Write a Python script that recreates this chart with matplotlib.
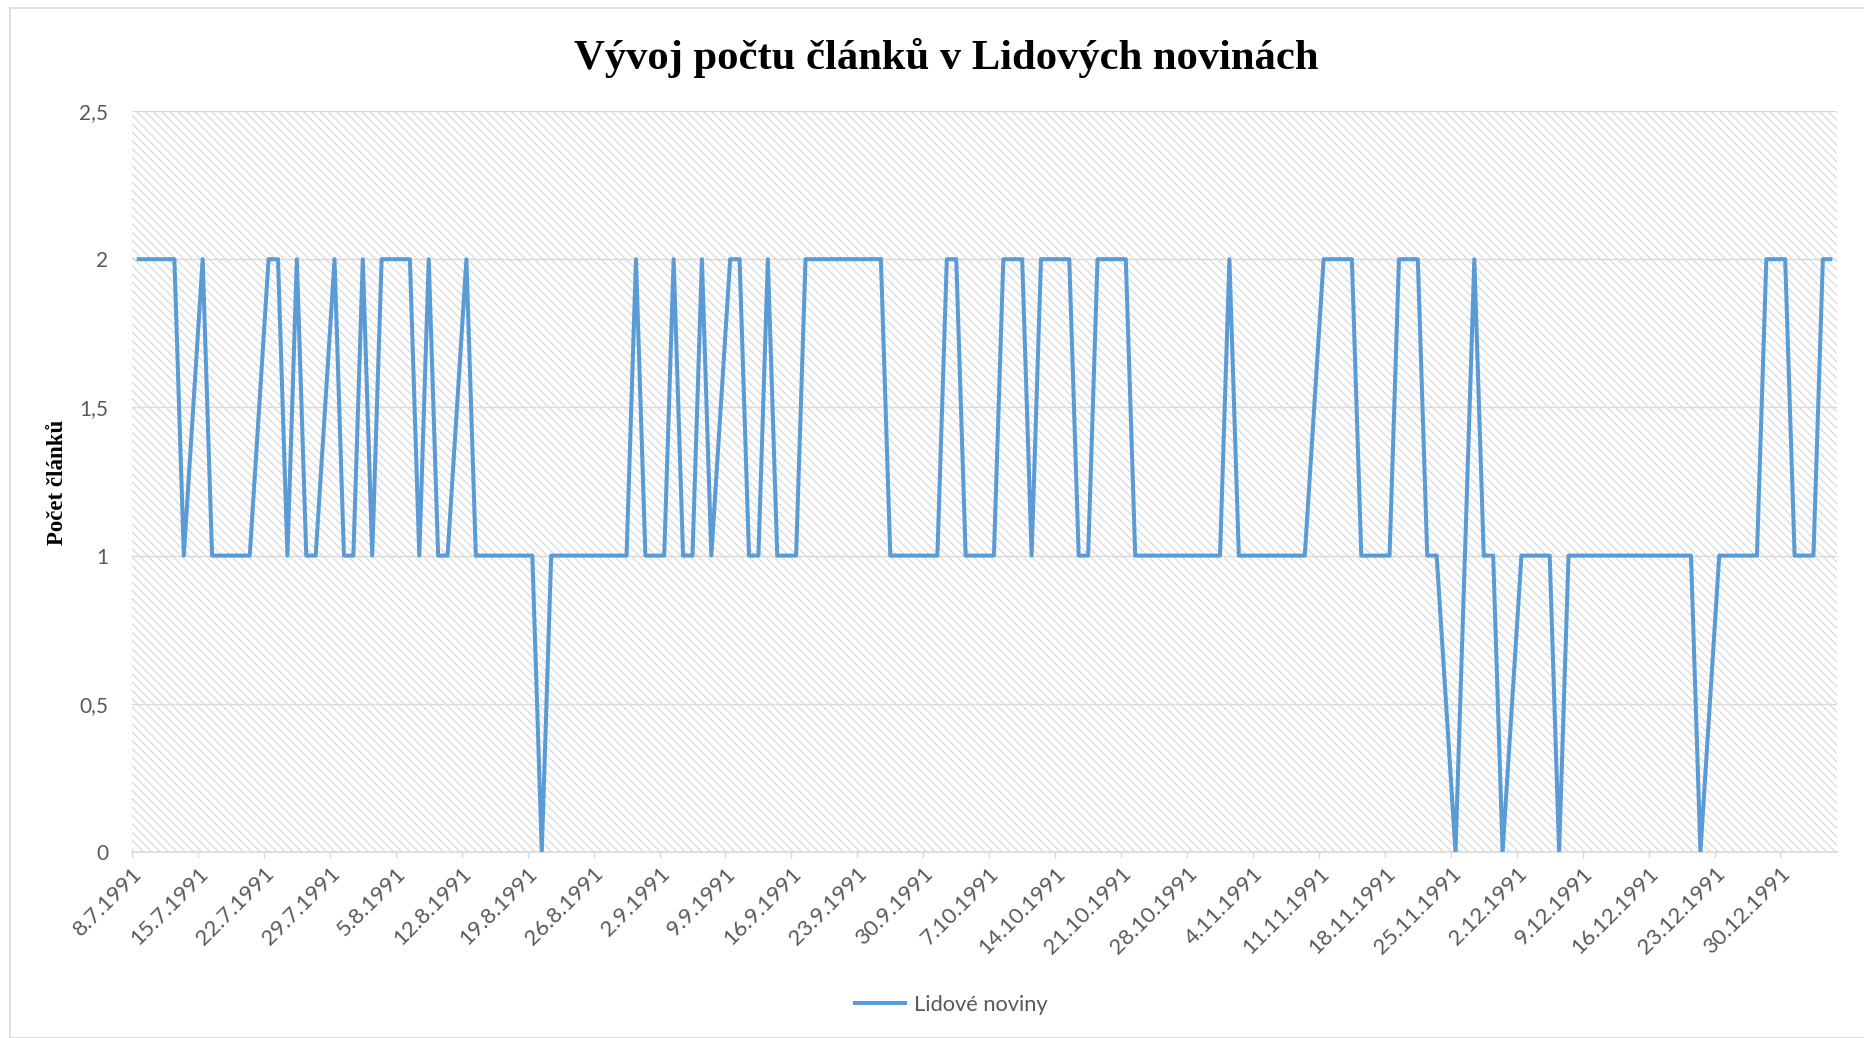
import matplotlib.pyplot as plt
import matplotlib.ticker as mticker
import matplotlib.transforms as mtransforms
import pandas as pd
from matplotlib.patches import Rectangle

# Lidové noviny vycházely Po-So, neděle v datech nejsou
dates = pd.bdate_range("1991-07-08", "1992-01-04", freq="C",
                       weekmask="Mon Tue Wed Thu Fri Sat")

# počet článků, jeden řádek = jeden týden (Po..So)
counts = [
    2, 2, 2, 2, 2, 1,  # 8.7.
    2, 1, 1, 1, 1, 1,  # 15.7.
    2, 2, 1, 2, 1, 1,  # 22.7.
    2, 1, 1, 2, 1, 2,  # 29.7.
    2, 2, 1, 2, 1, 1,  # 5.8.
    2, 1, 1, 1, 1, 1,  # 12.8.
    1, 0, 1, 1, 1, 1,  # 19.8.
    1, 1, 1, 1, 2, 1,  # 26.8.
    1, 2, 1, 1, 2, 1,  # 2.9.
    2, 2, 1, 1, 2, 1,  # 9.9.
    1, 2, 2, 2, 2, 2,  # 16.9.
    2, 2, 2, 1, 1, 1,  # 23.9.
    1, 1, 2, 2, 1, 1,  # 30.9.
    1, 2, 2, 2, 1, 2,  # 7.10.
    2, 2, 1, 1, 2, 2,  # 14.10.
    2, 1, 1, 1, 1, 1,  # 21.10.
    1, 1, 1, 1, 2, 1,  # 28.10.
    1, 1, 1, 1, 1, 1,  # 4.11.
    2, 2, 2, 2, 1, 1,  # 11.11.
    1, 2, 2, 2, 1, 1,  # 18.11.
    0, 1, 2, 1, 1, 0,  # 25.11.
    1, 1, 1, 1, 0, 1,  # 2.12.
    1, 1, 1, 1, 1, 1,  # 9.12.
    1, 1, 1, 1, 1, 0,  # 16.12.
    1, 1, 1, 1, 1, 2,  # 23.12.
    2, 1, 1, 1, 2, 2,  # 30.12.
]

tick_dates = pd.date_range("1991-07-08", "1991-12-30", freq="7D")
tick_labels = [f"{d.day}.{d.month}.{d.year}" for d in tick_dates]
y_ticks = [0, 0.5, 1, 1.5, 2, 2.5]

title = "Vývoj počtu článků v Lidových novinách"
y_title = "Počet článků"
series_name = "Lidové noviny"

GRAY = "#d9d9d9"
TEXT = "#595959"
BLUE = "#5B9BD5"

plt.rcParams["hatch.linewidth"] = 0.9

fig = plt.figure(figsize=(18.65, 10.38), dpi=100)
W, H = 1865, 1038

# rámeček grafu
fig.patches.append(Rectangle((10 / W, 0), 1.2, 1 - 8 / H, transform=fig.transFigure,
                             fill=False, edgecolor=GRAY, linewidth=1.2))

ax = fig.add_axes([132 / W, 1 - 852 / H, (1837 - 132) / W, (852 - 111) / H])
ax.patch.set_visible(False)
ax.add_patch(Rectangle((0, 0), 1, 1, transform=ax.transAxes, facecolor="white",
                       edgecolor=GRAY, hatch="\\\\\\\\", linewidth=0, zorder=0))

# body jsou uprostřed dne (osa "mezi značkami")
x = dates + pd.Timedelta(hours=12)
ax.plot(x, counts, color=BLUE, linewidth=2.9, solid_joinstyle="round",
        solid_capstyle="butt", label=series_name, zorder=3)

ax.set_xlim(pd.Timestamp("1991-07-08"), pd.Timestamp("1992-01-05"))
ax.set_ylim(0, 2.5)

ax.set_xticks(tick_dates)
ax.set_xticklabels(tick_labels, rotation=45, ha="right", va="center",
                   rotation_mode="anchor", family="Lato", fontsize=16, color=TEXT)

ax.set_yticks(y_ticks)
ax.yaxis.set_major_formatter(mticker.FuncFormatter(
    lambda v, p: f"{v:g}".replace(".", ",")))
for lab in ax.get_yticklabels():
    lab.set_family("Lato")
    lab.set_fontsize(15)
    lab.set_color(TEXT)

ax.tick_params(axis="x", direction="out", length=4, width=1, color=GRAY, pad=7)
ax.tick_params(axis="y", length=0, pad=17)
ax.yaxis.grid(True, color=GRAY, linewidth=1)
ax.set_axisbelow(True)

# popisky dat trochu doprava a dolů jako v Excelu (až po tick_params)
shift = mtransforms.ScaledTranslation(7 / 100, -3 / 100, fig.dpi_scale_trans)
for lab in ax.get_xticklabels():
    lab.set_transform(lab.get_transform() + shift)

for side in ["left", "right", "top"]:
    ax.spines[side].set_visible(False)
ax.spines["bottom"].set_color(GRAY)
ax.spines["bottom"].set_linewidth(1.2)

fig.text(946 / W, 1 - 69 / H, title, ha="center", va="baseline",
         family="Liberation Serif", fontweight="bold", fontsize=30.7)
fig.text(58 / W, 1 - 482 / H, y_title, ha="center", va="center", rotation=90,
         family="Liberation Serif", fontweight="bold", fontsize=16.5)

fig.legend(loc="center", bbox_to_anchor=(950 / W, 1 - 1005 / H), frameon=False,
           prop={"family": "Lato", "size": 15.75}, labelcolor=TEXT,
           handlelength=2.5, handletextpad=0.3)

fig.savefig("out.png", dpi=100)
plt.close(fig)
